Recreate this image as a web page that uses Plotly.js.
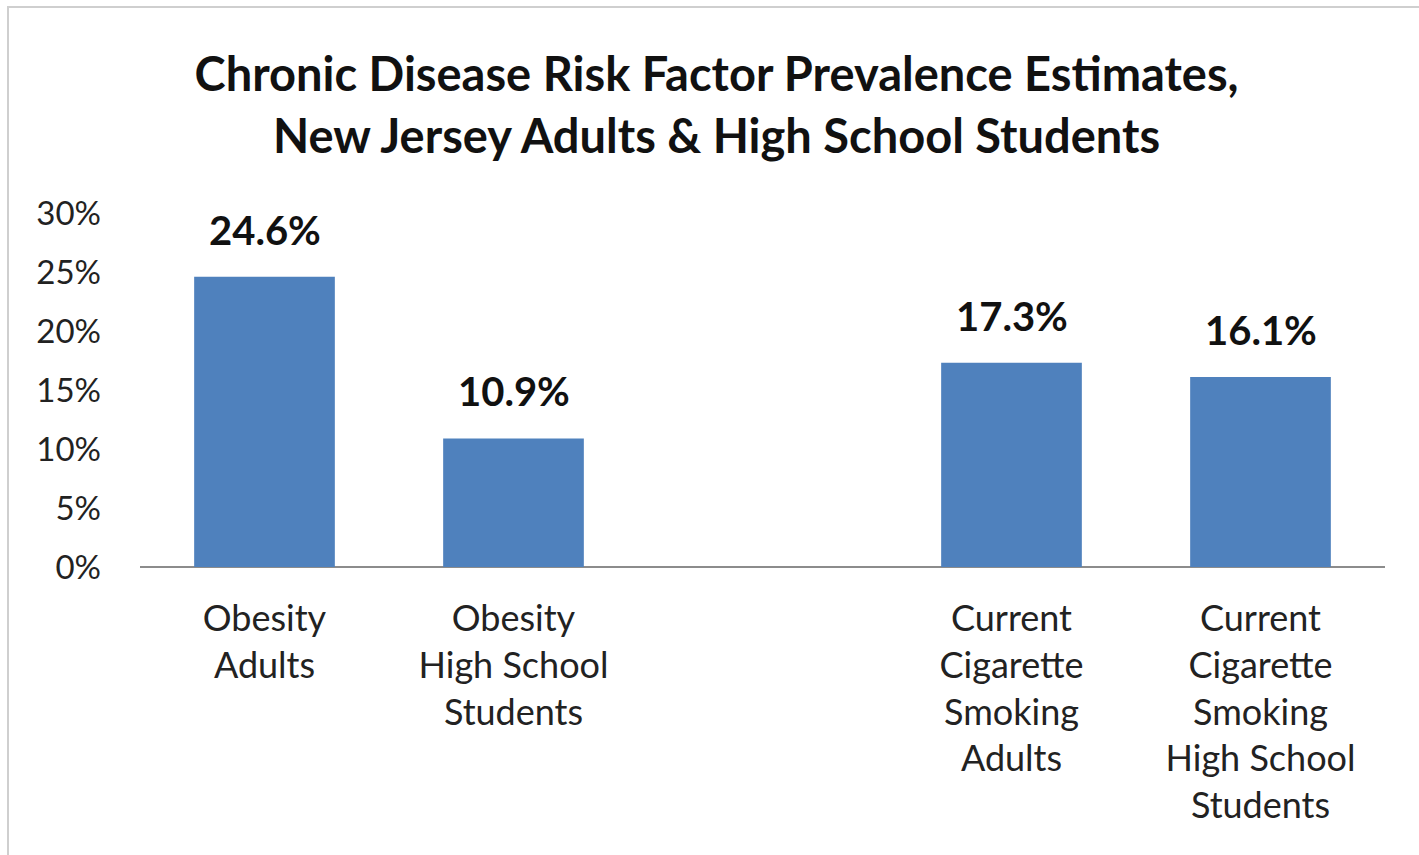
<!DOCTYPE html>
<html>
<head>
<meta charset="utf-8">
<script src="https://cdn.plot.ly/plotly-3.0.1.min.js"></script>
<style>
html,body{margin:0;padding:0;background:#fff;}
#wrap{position:relative;width:1419px;height:855px;}
#chart{width:1419px;height:855px;}
#frame{position:absolute;left:7px;top:6px;right:0;bottom:0;border-top:2px solid #cfcfcf;border-left:2px solid #cfcfcf;pointer-events:none;}
</style>
</head>
<body>
<div id="wrap"><div id="chart"></div><div id="frame"></div></div>
<script>
const categories = [
  "Obesity<br>Adults",
  "Obesity<br>High School<br>Students",
  " ",
  "Current<br>Cigarette<br>Smoking<br>Adults",
  "Current<br>Cigarette<br>Smoking<br>High School<br>Students"
];
const values = [24.6, 10.9, null, 17.3, 16.1];
const valueLabels = ["24.6%", "10.9%", "", "17.3%", "16.1%"];
const tickVals = [0, 5, 10, 15, 20, 25, 30];
const tickText = ["0%", "5%", "10%", "15%", "20%", "25%", "30%"];

const font = "Lato, 'Open Sans', 'Noto Sans', sans-serif";

const trace = {
  type: "bar",
  x: categories,
  y: values,
  marker: {color: "#4F81BD"},
  width: 0.565,
  hoverinfo: "none"
};

const annotations = [];
categories.forEach((c, i) => {
  if (values[i] === null) return;
  annotations.push({
    x: c, y: values[i], xref: "x", yref: "y",
    text: "<b>" + valueLabels[i] + "</b>",
    showarrow: false,
    yanchor: "bottom",
    yshift: 21,
    font: {family: font, size: 40, color: "#111"}
  });
});

const layout = {
  width: 1419,
  height: 855,
  margin: {l: 140, r: 34, t: 213, b: 288},
  paper_bgcolor: "#fff",
  plot_bgcolor: "#fff",
  showlegend: false,
  annotations: annotations,
  title: {
    text: "<b>Chronic Disease Risk Factor Prevalence Estimates,<br>New Jersey Adults &amp; High School Students</b>",
    font: {family: font, size: 47, color: "#111"},
    x: 0.505, xanchor: "center",
    y: 0.893, yanchor: "middle"
  },
  xaxis: {
    type: "category",
    categoryorder: "array",
    categoryarray: categories,
    range: [-0.5, 4.5],
    showgrid: false,
    showline: false,
    zeroline: false,
    ticks: "",
    ticklabelstandoff: 27,
    tickfont: {family: font, size: 36, color: "#222"},
    automargin: false
  },
  yaxis: {
    range: [0, 30],
    tickvals: tickVals,
    ticktext: tickText,
    showgrid: false,
    showline: false,
    zeroline: true,
    zerolinecolor: "#8c8c8c",
    zerolinewidth: 2,
    ticks: "",
    ticklabelstandoff: 38,
    tickfont: {family: font, size: 33, color: "#222"},
    automargin: false
  }
};

Plotly.newPlot("chart", [trace], layout, {displayModeBar: false, staticPlot: true});
</script>
</body>
</html>
